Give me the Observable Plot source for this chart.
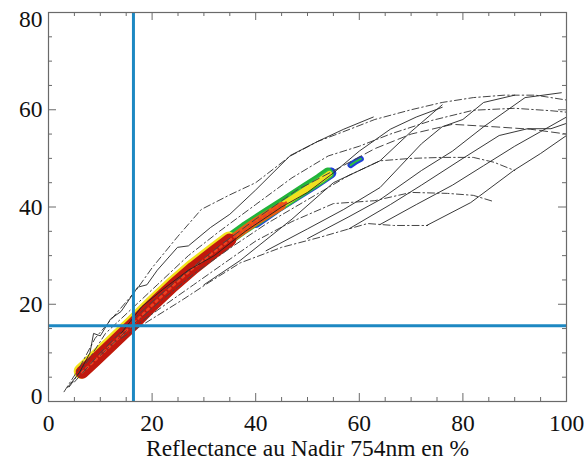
<!DOCTYPE html>
<html><head><meta charset="utf-8">
<script src="https://cdn.jsdelivr.net/npm/d3@7"></script>
<script src="https://cdn.jsdelivr.net/npm/@observablehq/plot@0.6"></script>
<style>
body{margin:0;background:#fff;overflow:hidden}
</style>
</head><body><div id="chart"></div>
<script>
// tick labels
const xTicks = [0, 20, 40, 60, 80, 100];
const yTicks = [0, 20, 40, 60, 80];
const xMinor = d3.range(0, 101, 5).filter(v => v % 20 !== 0);
const yMinor = d3.range(0, 81, 5).filter(v => v % 20 !== 0);
const xTitle = "Reflectance au Nadir 754nm en %";

// reference crosshair
const refX = 16.4;
const refY = 15.6;

// density band (observed), center path pieces
const bandCore = [[6.5,6],[9,8.5],[12,11.5],[16.4,16],[20,19.8],[24,23.8],[28,27.5],[32,30.8],[35,33.2]];
const bandUpper = [[30,29.2],[34,32.5],[38,35.5],[42,38.3],[46,41],[50,43.8],[52.5,45.5],[54.2,46.8]];
const bandMid = [[30,29.2],[35,33.2],[40,37],[45,40.2]];
const bandBlue = [[40,36.8],[44,39.8],[48,42.5],[51,44.5],[54.5,47]];
const blob = [[58.3,48.6],[59.4,49.4],[60.3,49.9]];

// simulated curves: dash-dot
const dd1 = [[3,2],[6,7],[9,13],[13,18],[17,23],[20,27.5],[25,34],[29.5,39.5],[35,42.5],[40,45],[46.7,50.5],[52,53.5],[56.5,55.3],[63,58],[70,60],[76,61.5],[82,62.5],[88,63],[94,63],[100,62]];
const dd2 = [[4,3],[8,9],[11,14],[16,19],[21,24],[27,30],[33,35],[40,40.5],[47,46],[54,50.5],[60,52.5],[66,55],[74,57.8],[82,59.9],[90,60.3],[97,59.8],[100,59.5]];
const dd3 = [[10,9.5],[16,15.5],[22,21],[28,26.2],[35,31.5],[42,36.5],[50,41.5],[58,46.5],[64,49.5],[70,50],[76,50.2],[82,50.2],[86,49.2],[90,47.5]];
const dd4 = [[16,15],[22,19.5],[28,24],[34,28.5],[40,33],[47,37],[55,40.7],[63,41.3],[70,43],[77,42.8],[82,42.4],[86,41.1]];
const dd5 = [[14,13],[20,17],[26,21],[31,24.5],[37,28.5],[45,31.7],[52.5,33.8],[58,35.5],[61.6,36.6],[66.6,36.2],[73.2,36.2]];
// dashed
const da1 = [[5,4],[10,10],[15,15.5],[20,20.5],[26,26],[33,32],[40,37.5],[48,43.5],[56,48],[63,52],[70,55],[78,57],[86,56.5],[93,56],[100,55]];
// solid
const s1 = [[3.7,2.9],[6,6],[8,10],[8.7,14],[10,13.5],[12,17],[14,18.5],[17.2,23.5],[19,24],[21,27],[24.9,31.7],[27,32],[31.3,35.8],[35,38.5],[40,43.5],[46.7,50.6],[52,53.5],[57,56],[62.7,58.5]];
const s2 = [[14,14],[18,19.5],[22,23],[27,27],[32,30],[38,35],[45,40],[50,43],[55,47],[60,51.5],[66,56],[71,58.5],[76,60.5]];
const l1 = [[30,24],[37,29],[47,37.5],[55,45],[64,49.5],[70,55.5],[76,61]];
const l2 = [[42,31],[50,35.5],[57,39.5],[64,44],[72,53],[76,56.5],[80,58],[84,61.5],[90,63]];
const l3 = [[50,33.5],[58,38],[64,41.5],[72,47.5],[78,51.5],[84,56.5],[92,62.5],[99,63.5]];
const l4 = [[58,35.5],[66,40.5],[72,44.5],[80,50],[87,54.7],[92.5,56.1],[97,56.1],[100,57.2]];
const l5 = [[64,36.4],[71,40.5],[78,44.5],[84,48.5],[90,52.5],[95,55.5],[100,58.5]];
const l6 = [[73,36.2],[81.5,40.9],[89.8,47.5],[95,51],[100,54.7]];

const dashDot = [dd1, dd2, dd3, dd4, dd5];
const dashed = [da1];
const solid = [s1, s2, l1, l2, l3, l4, l5, l6];

const X = d => d[0], Y = d => d[1];
const axisColor = "#6a6a6a";
const blue = "#1d88c2";
const serif = "Liberation Serif, DejaVu Serif, serif";
const fs = 23.5;

const marks = [];
// density band
marks.push(Plot.line(bandBlue, {x: X, y: Y, stroke: "#1f3fd6", strokeWidth: 11, strokeLinecap: "round"}));
marks.push(Plot.line(bandCore.concat(bandUpper.slice(2)), {x: X, y: Y, stroke: "#22b43a", strokeWidth: 9, strokeLinecap: "round", dx: -1.5, dy: -2}));
marks.push(Plot.line(bandUpper, {x: X, y: Y, stroke: "#2cc040", strokeWidth: 9, strokeLinecap: "round"}));
marks.push(Plot.line(bandUpper, {x: X, y: Y, stroke: "#f0e020", strokeWidth: 6, strokeLinecap: "round"}));
marks.push(Plot.line(bandCore, {x: X, y: Y, stroke: "#f2e21c", strokeWidth: 15, strokeLinecap: "round", dx: -1, dy: -1}));
marks.push(Plot.line(bandMid, {x: X, y: Y, stroke: "#e85a14", strokeWidth: 8, strokeLinecap: "round"}));
marks.push(Plot.line(bandCore, {x: X, y: Y, stroke: "#c0180e", strokeWidth: 13, strokeLinecap: "round"}));
marks.push(Plot.line(bandCore.concat(bandUpper.slice(2, 5)), {x: X, y: Y, stroke: "#ee4020", strokeWidth: 2.5, strokeDasharray: "2,4"}));
marks.push(Plot.line(blob, {x: X, y: Y, stroke: "#1f3fd6", strokeWidth: 6, strokeLinecap: "round"}));
marks.push(Plot.line(blob, {x: X, y: Y, stroke: "#2cc040", strokeWidth: 2, strokeLinecap: "round"}));
// model curves
for (const c of dashDot) marks.push(Plot.line(c, {x: X, y: Y, stroke: "#454545", strokeWidth: 1, strokeDasharray: "7,3,1.5,3"}));
for (const c of dashed) marks.push(Plot.line(c, {x: X, y: Y, stroke: "#454545", strokeWidth: 1, strokeDasharray: "8,4"}));
for (const c of solid) marks.push(Plot.line(c, {x: X, y: Y, stroke: "#222", strokeWidth: 0.9}));
// crosshair
marks.push(Plot.ruleX([refX], {stroke: blue, strokeWidth: 3}));
marks.push(Plot.ruleY([refY], {stroke: blue, strokeWidth: 3}));
// frame + inward ticks
marks.push(Plot.frame({stroke: axisColor, strokeWidth: 1.2}));
const tx = 8 / 4.8625, ty = 8 / 5.18;
const majorX = xTicks.slice(1, -1), majorY = yTicks.slice(1, -1);
marks.push(Plot.ruleX(majorX, {x: d => d, y1: 0, y2: tx, stroke: axisColor}));
marks.push(Plot.ruleX(majorX, {x: d => d, y1: 80, y2: 80 - tx, stroke: axisColor}));
marks.push(Plot.ruleX(xMinor, {x: d => d, y1: 0, y2: tx / 2, stroke: axisColor}));
marks.push(Plot.ruleX(xMinor, {x: d => d, y1: 80, y2: 80 - tx / 2, stroke: axisColor}));
marks.push(Plot.ruleY(majorY, {y: d => d, x1: 0, x2: ty, stroke: axisColor}));
marks.push(Plot.ruleY(majorY, {y: d => d, x1: 100, x2: 100 - ty, stroke: axisColor}));
marks.push(Plot.ruleY(yMinor, {y: d => d, x1: 0, x2: ty / 2, stroke: axisColor}));
marks.push(Plot.ruleY(yMinor, {y: d => d, x1: 100, x2: 100 - ty / 2, stroke: axisColor}));
// y tick labels (end labels nudged inside the picture as in the reference)
const yLabelOpts = {x: 0, y: d => d, text: d => String(d), textAnchor: "end", dx: -6, fontSize: fs, fontFamily: serif, fill: "#111"};
marks.push(Plot.text(yTicks.filter(v => v !== 0 && v !== 80), yLabelOpts));
marks.push(Plot.text(yTicks.filter(v => v === 0), {...yLabelOpts, dy: -5}));
marks.push(Plot.text(yTicks.filter(v => v === 80), {...yLabelOpts, dy: 7}));
// x tick labels
marks.push(Plot.text(xTicks, {x: d => d, y: 0, text: d => String(d), dy: 22, fontSize: fs, fontFamily: serif, fill: "#111"}));
// x title
marks.push(Plot.text([xTitle], {frameAnchor: "bottom", lineAnchor: "middle", dy: 47, text: d => d, fontSize: fs, fontFamily: serif, fill: "#111"}));

const chart = Plot.plot({
  width: 588, height: 461,
  marginTop: 12, marginRight: 22, marginBottom: 60, marginLeft: 48,
  style: {fontFamily: serif, color: "#111", background: "#fff"},
  x: {domain: [0, 100], axis: null},
  y: {domain: [0, 80], axis: null},
  marks
});
document.getElementById("chart").appendChild(chart);
</script></body></html>
